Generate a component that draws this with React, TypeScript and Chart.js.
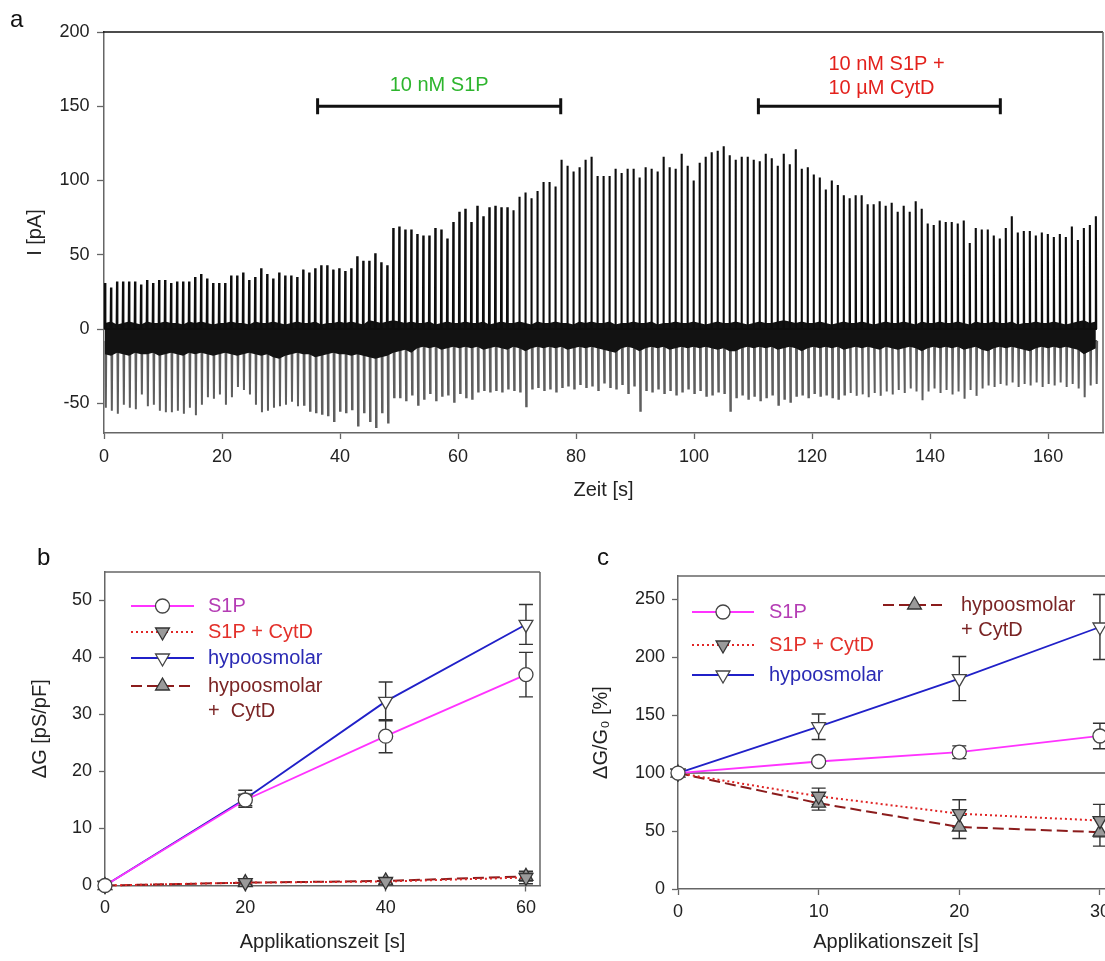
import React, { useEffect, useRef } from 'react';
import { Chart, registerables } from 'chart.js';
import { drawPoint } from 'chart.js/helpers';
Chart.register(...registerables);

const FONT = '"Liberation Sans", Arial, Helvetica, sans-serif';
const TICK_FONT = { family: FONT, size: 18 };
const TITLE_FONT = { family: FONT, size: 20 };
const TEXT = '#222';
const AXIS = '#666';

// ---------------- Panel a: current trace ----------------
const SPIKE_T0 = 0.17; // s, first stimulus
const SPIKE_PERIOD = 1.0177; // s between stimuli
const PEAKS = [
  31, 28, 32, 32, 32, 32, 30, 33, 31, 33,
  33, 31, 32, 32, 32, 35, 37, 34, 31, 31,
  31, 36, 36, 38, 33, 35, 41, 37, 34, 38,
  36, 36, 35, 40, 38, 41, 43, 43, 40, 41,
  39, 41, 49, 46, 46, 51, 45, 43, 68,
  69, 67, 67, 64, 63, 63, 68, 67, 61, 72,
  79, 81, 72, 83, 76, 82, 83, 82, 82, 80,
  89, 92, 88, 93, 99, 99, 96, 114, 110, 106,
  109, 114, 116, 103, 103, 103, 108, 105, 108, 108,
  102, 109, 108, 106, 116, 109, 108, 118, 110, 100,
  112, 116, 119, 120, 123, 117, 114, 116, 116, 114,
  113, 118, 115, 110, 118, 111,
  121, 108, 109, 104, 102, 94, 100, 97, 90, 88,
  90, 90, 84, 84, 86, 83, 85, 79, 83, 79,
  86, 81, 71, 70, 73, 72, 72, 71, 73, 58,
  68, 67, 67, 63, 61, 68, 76, 65, 66, 66,
  63, 65, 64, 62, 64, 62, 69, 60, 68, 70,
  76,
];
const TROUGHS = [
  -53, -55, -57, -51, -53, -54, -44, -52, -51, -55,
  -56, -56, -55, -57, -53, -58, -51, -46, -47, -44,
  -51, -46, -39, -41, -44, -51, -56, -55, -53, -52,
  -51, -49, -52, -51, -55, -56, -57, -58, -62, -55,
  -56, -54, -65, -56, -62, -66, -56, -63, -46,
  -46, -48, -44, -51, -47, -43, -48, -45, -44, -49,
  -43, -46, -47, -42, -41, -42, -41, -42, -40, -41,
  -42, -52, -40, -39, -41, -40, -42, -39, -38, -40,
  -37, -39, -38, -41, -36, -39, -40, -37, -43, -38,
  -55, -41, -42, -40, -43, -41, -44, -42, -40, -43,
  -41, -45, -44, -42, -43, -55, -46, -44, -47, -45,
  -48, -46, -44, -51, -47, -49,
  -45, -44, -46, -43, -45, -44, -46, -47, -44, -43,
  -45, -44, -46, -43, -45, -42, -44, -41, -43, -40,
  -42, -48, -42, -40, -43, -41, -44, -42, -47, -41,
  -45, -40, -38, -39, -37, -38, -36, -39, -37, -38,
  -36, -39, -37, -38, -36, -39, -37, -40, -46, -38,
  -37,
];
const BAND_TOP = [
  4, 5, 3, 4, 5, 4, 3, 5, 4, 4,
  5, 4, 4, 3, 5, 4, 5, 4, 3, 4,
  4, 5, 4, 4, 3, 5, 4, 4, 5, 4,
  3, 4, 5, 4, 4, 5, 3, 4, 4, 5,
  4, 5, 4, 3, 6, 5, 4, 5, 6, 5,
  4, 5, 4, 4, 5, 3, 4, 5, 4, 4,
  5, 4, 4, 5, 3, 4, 5, 4, 4, 5,
  4, 3, 5, 4, 4, 5, 4, 4, 3, 5,
  4, 5, 4, 4, 5, 3, 4, 4, 5, 4,
  4, 5, 3, 4, 4, 5, 4, 4, 5, 4,
  3, 4, 5, 4, 4, 5, 4, 3, 4, 5,
  4, 4, 5, 6, 5, 4, 5, 4, 4, 5,
  4, 3, 4, 5, 4, 4, 5, 4, 3, 4,
  5, 4, 4, 5, 4, 3, 5, 4, 4, 5,
  4, 4, 5, 4, 3, 5, 4, 4, 5, 4,
  4, 5, 3, 4, 4, 5, 4, 4, 5, 4,
  3, 4, 5, 6, 4, 5,
];
const BAND_BOTTOM = [
  -17, -18, -16, -17, -18, -16, -17, -17, -16, -18,
  -17, -16, -17, -18, -16, -17, -16, -17, -18, -17,
  -16, -17, -18, -17, -16, -17, -18, -17, -19, -20,
  -18, -17, -16, -17, -17, -19, -18, -17, -16, -17,
  -17, -18, -17, -18, -19, -20, -19, -18, -16, -15,
  -14, -16, -13, -12, -13, -12, -14, -13, -12, -13,
  -12, -13, -12, -14, -13, -12, -13, -14, -12, -13,
  -15, -13, -12, -13, -12, -13, -12, -14, -13, -12,
  -13, -12, -13, -14, -15, -16, -13, -12, -13, -15,
  -13, -12, -13, -12, -14, -13, -12, -13, -12, -13,
  -12, -13, -14, -13, -15, -15, -13, -12, -13, -12,
  -13, -12, -14, -13, -12, -13, -15, -13, -12, -13,
  -12, -13, -12, -14, -13, -12, -13, -12, -13, -14,
  -12, -13, -14, -13, -12, -13, -15, -13, -12, -13,
  -12, -13, -12, -14, -13, -12, -14, -15, -13, -12,
  -13, -12, -13, -14, -15, -13, -12, -13, -12, -13,
  -12, -13, -14, -17, -15, -13,
];
const BAR_START = [36.2, 110.9];
const BAR_END = [77.4, 151.9];
const BAR_LEVEL = 150;
const BAR_TEXT = [['10 nM S1P'], ['10 nM S1P +', '10 µM CytD']];
const BAR_TEXT_COLOR = ['#2db52d', '#e3211c'];

// ---------------- Panel b: ΔG ----------------
const TIME_B = [0, 20, 40, 60];
const B_S1P = [0, 15, 26.2, 37];
const B_S1P_ERR = [0, 1, 2.9, 3.9];
const B_S1P_CYTD = [0, 0.5, 0.7, 1.4];
const B_S1P_CYTD_ERR = [0, 0.4, 0.5, 1.1];
const B_HYPO = [0, 15.2, 32.3, 45.8];
const B_HYPO_ERR = [0, 1.5, 3.4, 3.5];
const B_HYPO_CYTD = [0, 0.5, 0.8, 1.6];
const B_HYPO_CYTD_ERR = [0, 0.3, 0.4, 0.8];

// ---------------- Panel c: ΔG/G0 ----------------
const TIME_C = [0, 10, 20, 30];
const C_S1P = [100, 110, 118, 132];
const C_S1P_ERR = [0, 2, 5.5, 11];
const C_S1P_CYTD = [100, 80, 65, 59];
const C_S1P_CYTD_ERR = [0, 7, 12, 14];
const C_HYPO = [100, 140, 181.5, 226];
const C_HYPO_ERR = [0, 11, 19, 28];
const C_HYPO_CYTD = [100, 74, 53.5, 49];
const C_HYPO_CYTD_ERR = [0, 6, 10, 12];

const SERIES_LABELS = ['S1P', 'S1P + CytD', 'hypoosmolar', 'hypoosmolar + CytD'];

function axis(o: any) {
  return {
    type: 'linear',
    position: o.position,
    min: o.min,
    max: o.max,
    ticks: {
      stepSize: o.step,
      includeBounds: false,
      autoSkip: false,
      maxRotation: 0,
      font: TICK_FONT,
      color: TEXT,
      padding: o.tickPad,
    },
    grid: { display: true, drawOnChartArea: false, drawTicks: true, tickLength: o.tickLen, tickColor: AXIS, tickWidth: 1.3 },
    border: { display: true, color: AXIS, width: 1.5 },
    title: { display: true, text: o.title, font: TITLE_FONT, color: TEXT, padding: o.titlePad },
    afterFit: o.fit,
  };
}

function boxPlugin(top: boolean, right: boolean, topColor: string) {
  return {
    id: 'box',
    afterDatasetsDraw(chart: any) {
      const { ctx, chartArea: a } = chart;
      ctx.save();
      ctx.lineWidth = 1.5;
      if (top) {
        ctx.strokeStyle = topColor;
        ctx.beginPath(); ctx.moveTo(a.left - 1, a.top); ctx.lineTo(a.right, a.top); ctx.stroke();
      }
      if (right) {
        ctx.strokeStyle = AXIS;
        ctx.beginPath(); ctx.moveTo(a.right, a.top); ctx.lineTo(a.right, a.bottom); ctx.stroke();
      }
      ctx.restore();
    },
  };
}

function letterPlugin(letter: string, x: number, y: number) {
  return {
    id: 'letter',
    afterDraw(chart: any) {
      const ctx = chart.ctx;
      ctx.save();
      ctx.fillStyle = '#111';
      ctx.font = `24px ${FONT}`;
      ctx.textBaseline = 'alphabetic';
      ctx.textAlign = 'left';
      ctx.fillText(letter, x, y);
      ctx.restore();
    },
  };
}

function errorBarPlugin(errs: number[][]) {
  return {
    id: 'errbars',
    beforeDatasetsDraw(chart: any) {
      const { ctx } = chart;
      const xs = chart.scales.x, ys = chart.scales.y;
      ctx.save();
      ctx.strokeStyle = '#333';
      ctx.lineWidth = 1.4;
      chart.data.datasets.forEach((ds: any, di: number) => {
        const e = errs[di];
        ds.data.forEach((p: any, i: number) => {
          if (!e[i]) return;
          const x = xs.getPixelForValue(p.x);
          const y1 = ys.getPixelForValue(p.y + e[i]);
          const y2 = ys.getPixelForValue(p.y - e[i]);
          ctx.beginPath();
          ctx.moveTo(x, y1); ctx.lineTo(x, y2);
          ctx.moveTo(x - 7, y1); ctx.lineTo(x + 7, y1);
          ctx.moveTo(x - 7, y2); ctx.lineTo(x + 7, y2);
          ctx.stroke();
        });
      });
      ctx.restore();
    },
  };
}

function legendPlugin(entries: any[]) {
  return {
    id: 'customLegend',
    afterDraw(chart: any) {
      const ctx = chart.ctx;
      entries.forEach((en) => {
        const ds: any = chart.data.datasets[en.ds];
        ctx.save();
        ctx.strokeStyle = ds.borderColor;
        ctx.lineWidth = ds.borderWidth;
        ctx.setLineDash(ds.borderDash || []);
        ctx.beginPath(); ctx.moveTo(en.x1, en.y); ctx.lineTo(en.x2, en.y); ctx.stroke();
        ctx.setLineDash([]);
        ctx.fillStyle = ds.pointBackgroundColor;
        ctx.strokeStyle = ds.pointBorderColor;
        ctx.lineWidth = ds.pointBorderWidth;
        drawPoint(ctx, { pointStyle: ds.pointStyle, rotation: ds.pointRotation || 0, radius: ds.pointRadius, borderWidth: ds.pointBorderWidth } as any, (en.x1 + en.x2) / 2, en.y);
        ctx.fillStyle = en.color;
        ctx.font = `20px ${FONT}`;
        ctx.textBaseline = 'middle';
        ctx.textAlign = 'left';
        en.lines.forEach((t: string, k: number) => ctx.fillText(t, en.tx, en.y + k * 25));
        ctx.restore();
      });
    },
  };
}

const hundredLinePlugin = {
  id: 'hundred',
  beforeDatasetsDraw(chart: any) {
    const { ctx, chartArea: a } = chart;
    const y = chart.scales.y.getPixelForValue(100);
    ctx.save();
    ctx.strokeStyle = '#555';
    ctx.lineWidth = 1.5;
    ctx.beginPath(); ctx.moveTo(a.left, y); ctx.lineTo(a.right, y); ctx.stroke();
    ctx.restore();
  },
};

const annotationPlugin = {
  id: 'applications',
  afterDatasetsDraw(chart: any) {
    const { ctx } = chart;
    const xs = chart.scales.x, ys = chart.scales.y;
    const y = ys.getPixelForValue(BAR_LEVEL);
    ctx.save();
    BAR_START.forEach((s, i) => {
      const x1 = xs.getPixelForValue(s), x2 = xs.getPixelForValue(BAR_END[i]);
      ctx.strokeStyle = '#111';
      ctx.lineWidth = 3;
      ctx.beginPath();
      ctx.moveTo(x1, y); ctx.lineTo(x2, y);
      ctx.moveTo(x1, y - 8); ctx.lineTo(x1, y + 8);
      ctx.moveTo(x2, y - 8); ctx.lineTo(x2, y + 8);
      ctx.stroke();
      ctx.fillStyle = BAR_TEXT_COLOR[i];
      ctx.font = `20px ${FONT}`;
      ctx.textBaseline = 'alphabetic';
      const lines = BAR_TEXT[i];
      if (lines.length === 1) {
        ctx.textAlign = 'center';
        ctx.fillText(lines[0], (x1 + x2) / 2, y - 15);
      } else {
        ctx.textAlign = 'left';
        ctx.fillText(lines[0], x1 + 70, y - 36);
        ctx.fillText(lines[1], x1 + 70, y - 12);
      }
    });
    ctx.restore();
  },
};

function configA(): any {
  const pos: any[] = [], neg: any[] = [], top: any[] = [], bot: any[] = [];
  PEAKS.forEach((p, i) => {
    const t = SPIKE_T0 + i * SPIKE_PERIOD;
    pos.push({ x: t - 0.06, y: 0 }, { x: t, y: p }, { x: t + 0.06, y: 0 });
    neg.push({ x: t + 0.06, y: -8 }, { x: t + 0.14, y: TROUGHS[i] }, { x: t + 0.22, y: -8 });
    top.push({ x: t, y: BAND_TOP[i] });
    bot.push({ x: t, y: BAND_BOTTOM[i] });
  });
  const line = { pointRadius: 0, tension: 0, fill: false };
  return {
    type: 'line',
    data: {
      datasets: [
        { ...line, data: pos, borderColor: '#0d0d0d', borderWidth: 2.1 },
        { ...line, data: top, borderWidth: 0, borderColor: 'rgba(0,0,0,0)', fill: '+1', backgroundColor: '#121212' },
        { ...line, data: bot, borderWidth: 0, borderColor: 'rgba(0,0,0,0)' },
        { ...line, data: neg, borderColor: '#5e5e5e', borderWidth: 2 },
      ],
    },
    options: {
      animation: false,
      responsive: false,
      devicePixelRatio: 1,
      layout: { padding: { top: 32, right: 2, bottom: 0, left: 0 } },
      plugins: { legend: { display: false }, tooltip: { enabled: false } },
      scales: {
        x: axis({ position: 'bottom', min: 0, max: 169.3, step: 20, tickPad: 7, tickLen: 6, title: 'Zeit [s]', titlePad: { top: 0, bottom: 17.5 }, fit: (s: any) => { s.height = 520 - 433; } }),
        y: axis({ position: 'left', min: -70, max: 200, step: 50, tickPad: 7.5, tickLen: 7, title: 'I [pA]', titlePad: { top: 23, bottom: 0 }, fit: (s: any) => { s.width = 104; } }),
      },
    },
    plugins: [boxPlugin(true, true, '#111'), annotationPlugin, letterPlugin('a', 10, 27)],
  };
}

function seriesDatasets(times: number[], s: number[][]) {
  const pts = (v: number[]) => v.map((y, i) => ({ x: times[i], y }));
  const common = { tension: 0, clip: false, fill: false };
  return [
    { ...common, label: SERIES_LABELS[0], data: pts(s[0]), borderColor: '#ff33ff', borderWidth: 1.8, pointStyle: 'circle', pointRadius: 7, pointRotation: 0, pointBackgroundColor: '#ffffff', pointBorderColor: '#444', pointBorderWidth: 1.3 },
    { ...common, label: SERIES_LABELS[1], data: pts(s[1]), borderColor: '#e02525', borderWidth: 2, borderDash: [2, 3], pointStyle: 'triangle', pointRadius: 8, pointRotation: 180, pointBackgroundColor: '#9a9a9a', pointBorderColor: '#333', pointBorderWidth: 1.3 },
    { ...common, label: SERIES_LABELS[2], data: pts(s[2]), borderColor: '#2020c8', borderWidth: 1.8, pointStyle: 'triangle', pointRadius: 8, pointRotation: 180, pointBackgroundColor: '#ffffff', pointBorderColor: '#444', pointBorderWidth: 1.3 },
    { ...common, label: SERIES_LABELS[3], data: pts(s[3]), borderColor: '#8b1c1c', borderWidth: 2, borderDash: [11, 5], pointStyle: 'triangle', pointRadius: 8, pointRotation: 0, pointBackgroundColor: '#9a9a9a', pointBorderColor: '#333', pointBorderWidth: 1.3 },
  ];
}

const LEGEND_COLORS = ['#b43cb4', '#e3302a', '#2a2ab4', '#7a2424'];

function configB(): any {
  return {
    type: 'line',
    data: { datasets: seriesDatasets(TIME_B, [B_S1P, B_S1P_CYTD, B_HYPO, B_HYPO_CYTD]) },
    options: {
      animation: false,
      responsive: false,
      devicePixelRatio: 1,
      layout: { padding: { top: 42, right: 20, bottom: 0, left: 0 } },
      plugins: { legend: { display: false }, tooltip: { enabled: false } },
      scales: {
        x: axis({ position: 'bottom', min: 0, max: 62, step: 20, tickPad: 6, tickLen: 6, title: 'Applikationszeit [s]', titlePad: { top: 0, bottom: 7 }, fit: (s: any) => { s.height = 431 - 355.5; } }),
        y: axis({ position: 'left', min: 0, max: 55, step: 10, tickPad: 7, tickLen: 6, title: 'ΔG [pS/pF]', titlePad: { top: 28, bottom: 0 }, fit: (s: any) => { s.width = 105; } }),
      },
    },
    plugins: [
      boxPlugin(true, true, AXIS),
      errorBarPlugin([B_S1P_ERR, B_S1P_CYTD_ERR, B_HYPO_ERR, B_HYPO_CYTD_ERR]),
      legendPlugin([
        { ds: 0, x1: 131, x2: 194, y: 76, tx: 208, color: LEGEND_COLORS[0], lines: ['S1P'] },
        { ds: 1, x1: 131, x2: 194, y: 102, tx: 208, color: LEGEND_COLORS[1], lines: ['S1P + CytD'] },
        { ds: 2, x1: 131, x2: 194, y: 128, tx: 208, color: LEGEND_COLORS[2], lines: ['hypoosmolar'] },
        { ds: 3, x1: 131, x2: 194, y: 156, tx: 208, color: LEGEND_COLORS[3], lines: ['hypoosmolar', '+  CytD'] },
      ]),
      letterPlugin('b', 37, 35),
    ],
  };
}

function configC(): any {
  return {
    type: 'line',
    data: { datasets: seriesDatasets(TIME_C, [C_S1P, C_S1P_CYTD, C_HYPO, C_HYPO_CYTD]) },
    options: {
      animation: false,
      responsive: false,
      devicePixelRatio: 1,
      layout: { padding: { top: 46, right: 18, bottom: 0, left: 0 } },
      plugins: { legend: { display: false }, tooltip: { enabled: false } },
      scales: {
        x: axis({ position: 'bottom', min: 0, max: 31, step: 10, tickPad: 6, tickLen: 6, title: 'Applikationszeit [s]', titlePad: { top: 0, bottom: 7 }, fit: (s: any) => { s.height = 431 - 359; } }),
        y: axis({ position: 'left', min: 0, max: 270, step: 50, tickPad: 7, tickLen: 6, title: 'ΔG/G₀ [%]', titlePad: { top: 29, bottom: 0 }, fit: (s: any) => { s.width = 118; } }),
      },
    },
    plugins: [
      hundredLinePlugin,
      boxPlugin(true, true, AXIS),
      errorBarPlugin([C_S1P_ERR, C_S1P_CYTD_ERR, C_HYPO_ERR, C_HYPO_CYTD_ERR]),
      legendPlugin([
        { ds: 0, x1: 132, x2: 194, y: 82, tx: 209, color: LEGEND_COLORS[0], lines: ['S1P'] },
        { ds: 1, x1: 132, x2: 194, y: 115, tx: 209, color: LEGEND_COLORS[1], lines: ['S1P + CytD'] },
        { ds: 2, x1: 132, x2: 194, y: 145, tx: 209, color: LEGEND_COLORS[2], lines: ['hypoosmolar'] },
        { ds: 3, x1: 323, x2: 386, y: 75, tx: 401, color: LEGEND_COLORS[3], lines: ['hypoosmolar', '+ CytD'] },
      ]),
      letterPlugin('c', 37, 35),
    ],
  };
}

export default function App() {
  const refA = useRef<HTMLCanvasElement>(null);
  const refB = useRef<HTMLCanvasElement>(null);
  const refC = useRef<HTMLCanvasElement>(null);
  useEffect(() => {
    const charts = [
      new Chart(refA.current as HTMLCanvasElement, configA()),
      new Chart(refB.current as HTMLCanvasElement, configB()),
      new Chart(refC.current as HTMLCanvasElement, configC()),
    ];
    return () => charts.forEach((c) => c.destroy());
  }, []);
  return (
    <div style={{ position: 'absolute', left: 0, top: 0, width: 1105, height: 961, overflow: 'hidden', background: '#fff' }}>
      <canvas ref={refA} width={1105} height={520} style={{ position: 'absolute', left: 0, top: 0 }} />
      <canvas ref={refB} width={560} height={431} style={{ position: 'absolute', left: 0, top: 530 }} />
      <canvas ref={refC} width={572} height={431} style={{ position: 'absolute', left: 560, top: 530 }} />
    </div>
  );
}
